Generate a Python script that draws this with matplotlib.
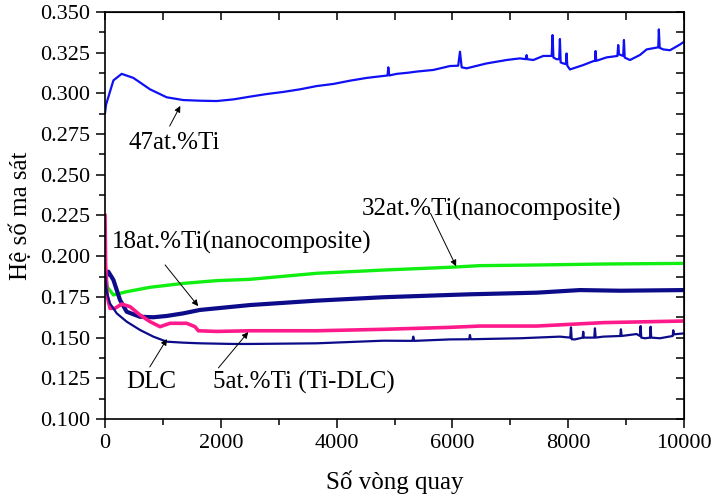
import matplotlib
matplotlib.use("Agg")
import matplotlib.pyplot as plt
from matplotlib.ticker import MultipleLocator

plt.rcParams["font.family"] = ["Liberation Serif", "DejaVu Serif"]
plt.rcParams["mathtext.fontset"] = "stix"

# 47at.%Ti
ti47_x = [0, 17, 145, 288, 490, 777, 1065, 1352, 1640, 1928, 2216, 2504, 2792, 3080,
          3368, 3656, 3944, 4231, 4519, 4807, 4880, 4893, 4910, 5039, 5235, 5383, 5671,
          5958, 6100, 6131, 6160, 6246, 6590, 6936, 7166, 7270, 7282, 7295, 7397, 7570,
          7715, 7730, 7745, 7799, 7845, 7857, 7870, 7915, 7960, 7972, 7985, 8030, 8260,
          8433, 8463, 8473, 8485, 8663, 8850, 8864, 8878, 8950, 8963, 8976, 9067, 9240,
          9355, 9556, 9566, 9580, 9643, 9758, 9930, 10000]
ti47_y = [0.288, 0.293, 0.308, 0.312, 0.3095, 0.3025, 0.2976, 0.2959, 0.2955, 0.2953,
          0.2963, 0.298, 0.2996, 0.3009, 0.3025, 0.3045, 0.3058, 0.3078, 0.3095, 0.3107,
          0.311, 0.316, 0.311, 0.312, 0.3127, 0.3134, 0.3144, 0.3168, 0.317, 0.3256,
          0.316, 0.3154, 0.3184, 0.3205, 0.3215, 0.321, 0.3235, 0.321, 0.3205, 0.323,
          0.323, 0.3358, 0.322, 0.321, 0.321, 0.3334, 0.319, 0.3184, 0.318, 0.3245,
          0.317, 0.3147, 0.3174, 0.3198, 0.32, 0.326, 0.32, 0.3221, 0.323, 0.3297, 0.324,
          0.323, 0.3328, 0.322, 0.3205, 0.3236, 0.327, 0.3283, 0.3393, 0.328, 0.327,
          0.3265, 0.330, 0.3317]

# 32at.%Ti
ti32_x = [0, 40, 145, 374, 777, 1352, 1928, 2504, 3656, 4807, 5958, 6476, 7455, 8606, 10000]
ti32_y = [0.190, 0.181, 0.1762, 0.1782, 0.1809, 0.1833, 0.185, 0.1858, 0.1895, 0.1915,
          0.1932, 0.1942, 0.1946, 0.1952, 0.1956]

# 18at.%Ti
ti18_x = [0, 57, 145, 259, 374, 604, 834, 1065, 1352, 1640, 2216, 2504, 3656, 4807,
          5958, 6303, 7455, 8203, 8894, 10000]
ti18_y = [0.186, 0.1905, 0.1854, 0.1731, 0.1659, 0.1628, 0.1625, 0.1633, 0.1649, 0.167,
          0.169, 0.170, 0.1727, 0.1748, 0.1762, 0.1766, 0.1776, 0.1792, 0.1788, 0.1792]

# 5at.%Ti (Ti-DLC)
ti5_x = [0, 10, 40, 86, 173, 288, 432, 604, 777, 950, 1122, 1410, 1554, 1612, 1928,
         2504, 3656, 4807, 5958, 6476, 7455, 8606, 10000]
ti5_y = [0.225, 0.195, 0.175, 0.168, 0.168, 0.1706, 0.169, 0.1639, 0.1598, 0.1567,
         0.1588, 0.1588, 0.1567, 0.1542, 0.1538, 0.1542, 0.1542, 0.1551, 0.1563, 0.1571,
         0.1571, 0.1592, 0.1602]

# DLC
dlc_x = [0, 30, 86, 202, 374, 604, 834, 1065, 1352, 1640, 2216, 2504, 3656, 4807,
         5310, 5324, 5340, 5958, 6290, 6303, 6316, 7166, 7857, 8035, 8048, 8060, 8117,
         8250, 8260, 8270, 8450, 8462, 8474, 8606, 8900, 8911, 8922, 9182, 9240, 9251,
         9262, 9326, 9414, 9424, 9434, 9585, 9805, 9815, 9825, 10000]
dlc_y = [0.190, 0.178, 0.171, 0.1649, 0.1598, 0.1547, 0.1506, 0.1475, 0.1469, 0.1465,
         0.1461, 0.1461, 0.1465, 0.1481, 0.148, 0.1506, 0.148, 0.1489, 0.149, 0.1516,
         0.149, 0.1496, 0.1506, 0.150, 0.1563, 0.149, 0.1489, 0.150, 0.1536, 0.150, 0.150,
         0.1557, 0.150, 0.1506, 0.151, 0.1551, 0.151, 0.1522, 0.151, 0.1571, 0.150, 0.1496,
         0.150, 0.1567, 0.150, 0.1496, 0.151, 0.1545, 0.152, 0.1526]

fig = plt.figure(figsize=(7.13, 4.97), dpi=100)
ax = fig.add_axes([0.1473, 0.1569, 0.8120, 0.8190])

ax.plot(ti32_x, ti32_y, color="#11ee11", lw=2.4)
ax.plot(ti18_x, ti18_y, color="#0c0c8a", lw=3.0)
ax.plot(ti5_x, ti5_y, color="#ff1a8c", lw=2.6)
ax.plot(dlc_x, dlc_y, color="#0c0c8a", lw=1.6)
ax.plot(ti47_x, ti47_y, color="#1010f5", lw=1.6)

ax.set_xlim(0, 10000)
ax.set_ylim(0.100, 0.350)
ax.xaxis.set_major_locator(MultipleLocator(2000))
ax.xaxis.set_minor_locator(MultipleLocator(1000))
ax.yaxis.set_major_locator(MultipleLocator(0.025))
ax.yaxis.set_minor_locator(MultipleLocator(0.0125))
ax.yaxis.set_major_formatter(plt.FormatStrFormatter("%.3f"))
ax.tick_params(which="major", direction="out", length=6.5, width=1.1, labelsize=16, pad=4)
ax.tick_params(which="minor", direction="out", length=4, width=1.1)
for s in ax.spines.values():
    s.set_linewidth(1.2)

top = ax.secondary_xaxis("top")
top.xaxis.set_major_locator(MultipleLocator(1000))
top.tick_params(direction="in", length=6, width=1.1, labeltop=False)
right = ax.secondary_yaxis("right")
right.yaxis.set_major_locator(MultipleLocator(0.0125))
right.tick_params(direction="in", length=6, width=1.1, labelright=False)

ax.set_xlabel("Số vòng quay", fontsize=18, labelpad=13)
ax.set_ylabel("Hệ số ma sát", fontsize=18, labelpad=6)

arrow = dict(arrowstyle="-|>", color="black", lw=0.7, mutation_scale=9)
ax.text(397, 0.2695, "47at.%Ti", fontsize=18, va="center", ha="left")
ax.annotate("", xy=(1323, 0.2938), xytext=(1094, 0.2784), arrowprops=arrow)

ax.text(4440, 0.2285, "32at.%Ti(nanocomposite)", fontsize=18, va="center", ha="left")
ax.annotate("", xy=(6085, 0.1923), xytext=(5601, 0.2279), arrowprops=arrow)

ax.text(115, 0.2085, "18at.%Ti(nanocomposite)", fontsize=18, va="center", ha="left")
ax.annotate("", xy=(1639, 0.168), xytext=(1007, 0.196), arrowprops=arrow)

ax.text(360, 0.1225, "DLC", fontsize=18, va="center", ha="left")
ax.annotate("", xy=(1094, 0.1506), xytext=(748, 0.1305), arrowprops=arrow)

ax.text(1870, 0.1225, "5at.%Ti (Ti-DLC)", fontsize=18, va="center", ha="left")
ax.annotate("", xy=(2504, 0.1547), xytext=(1928, 0.1301), arrowprops=arrow)

fig.savefig("out.png", dpi=100)
